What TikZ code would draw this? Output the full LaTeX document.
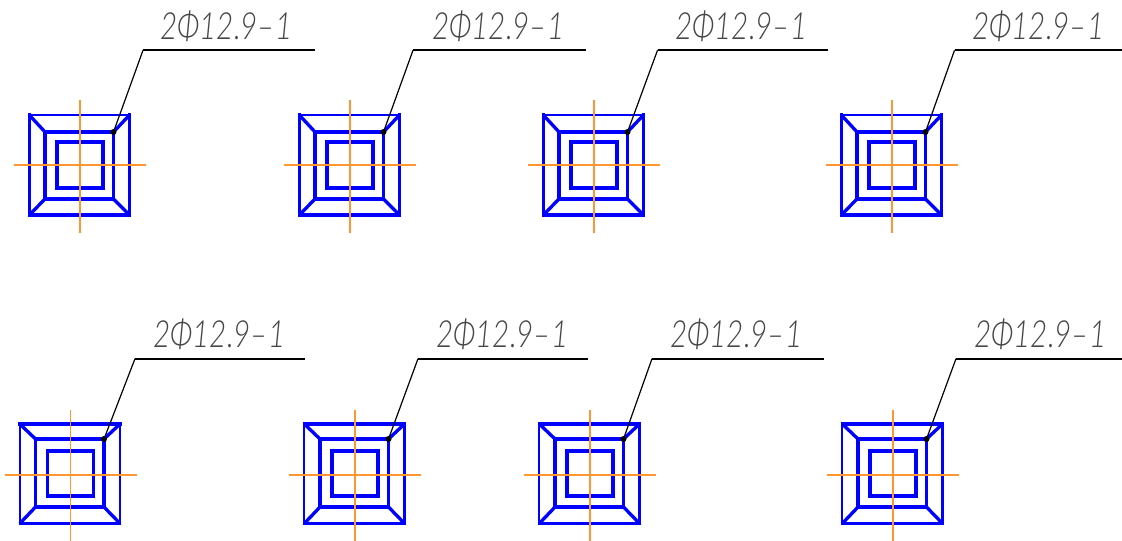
\documentclass[tikz,border=0pt]{standalone}
\usepackage{graphicx}
\usepackage{fontspec}
\newfontfamily\lblfont{Lato Light}
\definecolor{partblue}{RGB}{0,0,255}
\definecolor{axisorange}{RGB}{255,150,50}
\definecolor{labelgrey}{RGB}{70,70,70}
\tikzset{
  heavy/.style={draw=partblue,line width=2.5pt,line cap=rect},
  light/.style={draw=partblue,line width=1.7pt,line cap=rect},
  slant/.style={draw=partblue,line width=2.5pt,line cap=butt},
  axis/.style={draw=axisorange,line width=1.1pt},
  leaderline/.style={draw=black,line width=0.9pt},
  shelf/.style={draw=black,line width=1.3pt},
  tipdot/.style={circle,fill=black,inner sep=0pt,minimum size=4.5pt},
  mark label/.style={inner sep=0pt,anchor=west,text=labelgrey}
}
% #1 name, #2 cx, #3 cy, #4 elbow x, #5 shelf end x, #6 label left x
\newcommand{\gland}[6]{%
  \begin{scope}[shift={(#2,#3)}]
    \draw[\stop] (-50.7,\ot) -- (49.5,\ot);
    \draw[\sbot] (-50.7,\ob) -- (49.5,\ob);
    \draw[\sside] (-50.7,\ot) -- (-50.7,\ob);
    \draw[\sside] (49.5,\ot) -- (49.5,\ob);
    \draw[heavy] (-35,\mt) rectangle (33.5,\mb);
    \draw[heavy] (-23,\itp) rectangle (23,\ib);
    \draw[slant] (-50.7,\ot) -- (-35,\mt);
    \draw[slant] (49.5,\ot) -- (33.5,\mt);
    \draw[slant] (-50.7,\ob) -- (-35,\mb);
    \draw[slant] (49.5,\ob) -- (33.5,\mb);
    \draw[axis] (-66,0) -- (66,0);
    \draw[axis] (0,-65) -- (0,\axb);
    \node[tipdot] (tip#1) at (33.5,\mt) {};
  \end{scope}
  \coordinate (elbow#1) at (#4,\shelfy);
  \coordinate (end#1) at (#5,\shelfy);
  \draw[leaderline] (tip#1.center) -- (elbow#1);
  \draw[shelf] (elbow#1) -- (end#1);
  \node[mark label] (label#1) at (#6,\lably)
    {\resizebox{99pt}{21.5pt}{\lblfont\itshape 2Φ12.9–1}};
}
\begin{document}
\begin{tikzpicture}[x=0.75pt,y=-0.75pt]
\useasboundingbox (0,0) rectangle (1122,541);
% top row
\def\ot{-50}\def\ob{50}\def\mt{-33}\def\mb{34}\def\itp{-23}\def\ib{23}
\def\stop{light}\def\sbot{heavy}\def\sside{heavy}
\def\shelfy{50.3}\def\lably{26}\def\axb{68}
\gland{a}{80}{165}{143}{315}{160}
\gland{b}{350}{165}{413}{586}{432}
\gland{c}{594}{165}{657.5}{828}{675}
\gland{d}{892}{165}{954.5}{1122}{972}
% bottom row
\def\ot{-51}\def\ob{48.5}\def\mt{-36}\def\mb{32}\def\itp{-24}\def\ib{21}
\def\stop{heavy}\def\sbot{light}\def\sside{light}
\def\shelfy{358.7}\def\lably{334}\def\axb{66}
\gland{e}{70.5}{475}{135}{305}{153}
\gland{f}{355}{475}{418}{588}{436}
\gland{g}{590}{475}{652}{824}{670}
\gland{h}{893}{475}{956}{1122}{974}
\end{tikzpicture}
\end{document}
